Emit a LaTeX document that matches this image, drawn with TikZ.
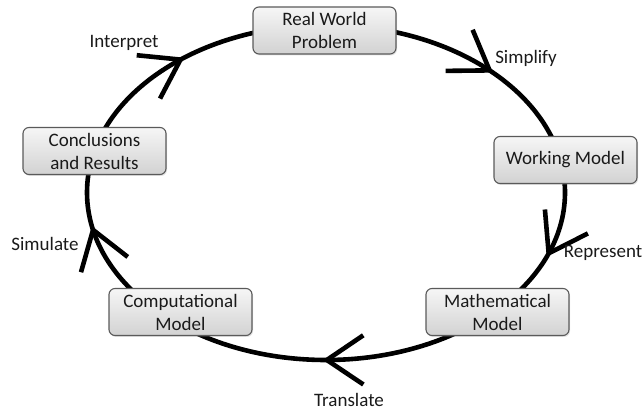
\documentclass[tikz,border=0pt]{standalone}
\usepackage{fontspec}
\setmainfont{Carlito}
\usetikzlibrary{calc,shadows}
\definecolor{boxline}{HTML}{5A5A5A}
\definecolor{boxtop}{HTML}{F6F6F6}
\definecolor{boxbottom}{HTML}{D2D2D2}
\definecolor{ink}{HTML}{1A1A1A}
\begin{document}
\begin{tikzpicture}[x=1pt,y=1pt,
  stage/.style={draw=boxline, line width=1.1pt, rounded corners=6pt,
    top color=boxtop, bottom color=boxbottom,
    minimum width=143pt, minimum height=47pt, inner sep=0pt,
    align=center, text=ink, font=\fontsize{19}{23}\selectfont,
    drop shadow={opacity=0.22, shadow xshift=1pt, shadow yshift=-1.5pt}},
  lbl/.style={text=ink, font=\fontsize{19}{23}\selectfont, inner sep=0pt},
  cycle line/.style={line width=4.6pt, black}]
\useasboundingbox (0,0) rectangle (644,411);

% the modelling cycle
\coordinate (c) at (326,218.5);
\draw[cycle line] (c) ellipse [x radius=239pt, y radius=167.5pt];

% open arrowheads along the cycle, pointing clockwise
\foreach \t [count=\i] in {127.5,46.8,-21.3,-89.8,192.9}{
  \pgfmathsetmacro\ang{atan2(-167.5*cos(\t), 239*sin(\t))}
  \coordinate (tip\i) at ($(c)+(\t:239pt and 167.5pt)$);
  \draw[cycle line, shift={(tip\i)}, rotate=\ang]
    (-36.5,24.6) -- (0,0) -- (-36.5,-24.6);
}

% stages
\node[stage] (real)  at (324.5,380.5) {Real World\\Problem};
\node[stage] (work)  at (565.5,251)   {Working Model};
\node[stage] (math)  at (497.5,99)    {Mathematical\\Model};
\node[stage] (comp)  at (180.5,99)    {Computational\\Model};
\node[stage] (concl) at (94.5,260)    {Conclusions\\and Results};

% transitions
\node[lbl] (interp) at (124,368) {Interpret};
\node[lbl] (simp)   at (526,353) {Simplify};
\node[lbl] (repr)   at (603,158) {Represent};
\node[lbl] (trans)  at (349,11)  {Translate};
\node[lbl] (simul)  at (45,167)  {Simulate};
\end{tikzpicture}
\end{document}
